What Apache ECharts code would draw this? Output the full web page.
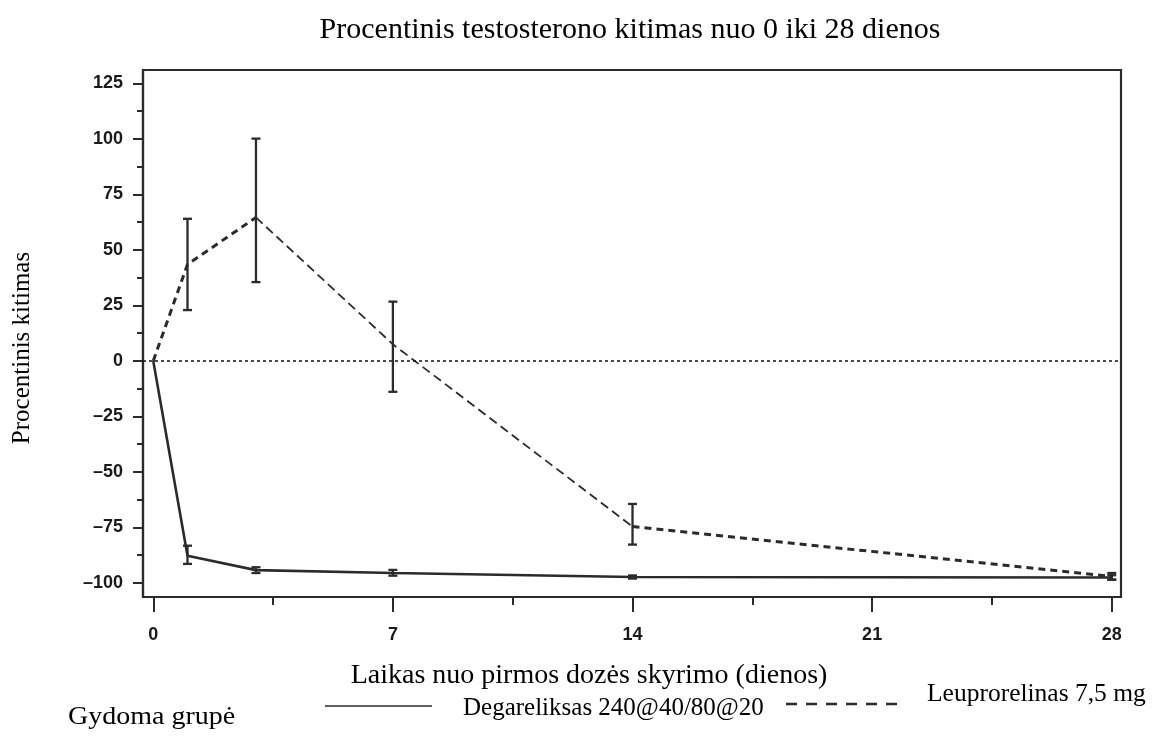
<!DOCTYPE html>
<html><head><meta charset="utf-8">
<script src="https://cdn.jsdelivr.net/npm/echarts@6/dist/echarts.min.js"></script>
<style>html,body{margin:0;padding:0;background:#fff}#c{width:1153px;height:738px}</style>
</head><body><div id="c"></div>
<script>
const days = [0, 1, 3, 7, 14, 28];
const degMean = [0, -87.7, -94.2, -95.5, -97.3, -97.5];
const degLow  = [null, -91.4, -95.5, -96.7, -98.0, -98.5];
const degHigh = [null, -83.2, -92.9, -94.1, -96.6, -96.5];
const leuMean = [0, 43.5, 64.6, 7.5, -74.6, -97.0];
const leuLow  = [null, 22.9, 35.5, -13.9, -82.7, -98.5];
const leuHigh = [null, 64.0, 100.1, 26.7, -64.4, -95.5];
const yMajor = [-100, -75, -50, -25, 0, 25, 50, 75, 100, 125];
const yMinor = [-87.5, -62.5, -37.5, -12.5, 12.5, 37.5, 62.5, 87.5, 112.5];
const xMajor = [0, 7, 14, 21, 28];
const xMinor = [3.5, 10.5, 17.5, 24.5];
const titleText = 'Procentinis testosterono kitimas nuo 0 iki 28 dienos';
const xName = 'Laikas nuo pirmos dozės skyrimo (dienos)';
const yName = 'Procentinis kitimas';
const legendTitle = 'Gydoma grupė';
const seriesNames = ['Degareliksas 240@40/80@20', 'Leuprorelinas 7,5 mg'];

const INK = '#2b2b2b';
const SERIF = '"Liberation Serif","DejaVu Serif",serif';
const SANS = '"Liberation Sans",Arial,sans-serif';
const X0 = -0.3, X1 = 28.27, Y0 = -106.3, Y1 = 131;

function pairs(m){ return days.map((d,i)=>[d,m[i]]); }
// thick dashed parts (0->3 and 14->28) and thin dashed middle (3->14)
const thinIdx = [2, 3, 4];
function leuThick(){ return days.map((d,i)=>[d, i===3 ? null : leuMean[i]]); }
function leuThin(){ return thinIdx.map(i=>[days[i], leuMean[i]]); }
function errData(lo,hi){ const r=[]; days.forEach((d,i)=>{ if(lo[i]!=null) r.push([d,lo[i],hi[i]]); }); return r; }
function errSeries(lo,hi){
  return {type:'custom', data: errData(lo,hi), z:5, silent:true,
    encode:{x:0,y:[1,2]},
    renderItem:function(params, api){
      const x = api.value(0);
      const a = api.coord([x, api.value(1)]);
      const b = api.coord([x, api.value(2)]);
      const w = 4.5;
      const st = {stroke: INK, lineWidth: 2.3, fill: null};
      return {type:'group', children:[
        {type:'line', shape:{x1:a[0],y1:a[1],x2:b[0],y2:b[1]}, style:st},
        {type:'line', shape:{x1:a[0]-w,y1:a[1],x2:a[0]+w,y2:a[1]}, style:st},
        {type:'line', shape:{x1:b[0]-w,y1:b[1],x2:b[0]+w,y2:b[1]}, style:st}
      ]};
    }};
}
const fmtNum = v => String(v).replace('-', '\u2013');

const baseX = {type:'value', min:X0, max:X1, splitLine:{show:false}};
const baseY = {type:'value', min:Y0, max:Y1, splitLine:{show:false}};
const chart = echarts.init(document.getElementById('c'));
chart.setOption({
  animation:false,
  backgroundColor:'#fff',
  grid:{left:143, right:32, top:70, bottom:141, show:true, borderColor:INK, borderWidth:2.2, containLabel:false},
  xAxis:[
    Object.assign({}, baseX, {axisLine:{show:true, onZero:false, lineStyle:{color:INK,width:2.2}},
      axisTick:{show:true, length:15, lineStyle:{color:INK,width:2}, customValues:xMajor},
      axisLabel:{show:true, customValues:xMajor, margin:29, color:'#1a1a1a', fontFamily:SANS, fontWeight:'bold', fontSize:18}}),
    Object.assign({}, baseX, {position:'bottom', axisLine:{show:false, onZero:false},
      axisTick:{show:true, length:8, lineStyle:{color:INK,width:2}, customValues:xMinor},
      axisLabel:{show:false}})
  ],
  yAxis:[
    Object.assign({}, baseY, {axisLine:{show:true, onZero:false, lineStyle:{color:INK,width:2.2}},
      axisTick:{show:true, length:10, lineStyle:{color:INK,width:2}, customValues:yMajor},
      axisLabel:{show:true, customValues:yMajor, margin:20, color:'#1a1a1a', fontFamily:SANS, fontWeight:'bold', fontSize:18, formatter:fmtNum}}),
    Object.assign({}, baseY, {position:'left', axisLine:{show:false, onZero:false},
      axisTick:{show:true, length:6, lineStyle:{color:INK,width:2}, customValues:yMinor},
      axisLabel:{show:false}})
  ],
  series:[
    {type:'line', name:seriesNames[0], data:pairs(degMean), symbol:'none', z:4,
      lineStyle:{color:INK, width:2.6, type:'solid'},
      markLine:{silent:true, symbol:'none', label:{show:false},
        lineStyle:{color:'#111', width:1.5, type:[3,3]}, data:[{yAxis:0}]}},
    {type:'line', name:seriesNames[1], data:leuThick(), symbol:'none', z:4, connectNulls:false,
      lineStyle:{color:INK, width:3, type:[7,5]}},
    {type:'line', name:seriesNames[1] + ' ', data:leuThin(), symbol:'none', z:4,
      lineStyle:{color:INK, width:1.8, type:[9,5]}},
    errSeries(degLow, degHigh),
    errSeries(leuLow, leuHigh)
  ],
  graphic:[
    {type:'text', x:630, y:30, style:{text:titleText, font:'30px '+SERIF, fill:'#000', align:'center', verticalAlign:'middle'}},
    {type:'text', x:589, y:676, style:{text:xName, font:'28px '+SERIF, fill:'#000', align:'center', verticalAlign:'middle'}},
    {type:'text', x:22, y:348, rotation:Math.PI/2, style:{text:yName, font:'25px '+SERIF, fill:'#000', align:'center', verticalAlign:'middle'}},
    {type:'text', x:68, y:717, scaleX:1.12, style:{text:legendTitle, font:'25px '+SERIF, fill:'#000', align:'left', verticalAlign:'middle'}},
    {type:'line', shape:{x1:325,y1:706,x2:432,y2:706}, style:{stroke:INK, lineWidth:1.5}},
    {type:'text', x:463, y:708, style:{text:seriesNames[0], font:'25px '+SERIF, fill:'#000', align:'left', verticalAlign:'middle'}},
    {type:'line', shape:{x1:786,y1:704,x2:905,y2:704}, style:{stroke:INK, lineWidth:2.5, lineDash:[11,9]}},
    {type:'text', x:927, y:694, style:{text:seriesNames[1], font:'25.5px '+SERIF, fill:'#000', align:'left', verticalAlign:'middle'}}
  ]
});
</script></body></html>
